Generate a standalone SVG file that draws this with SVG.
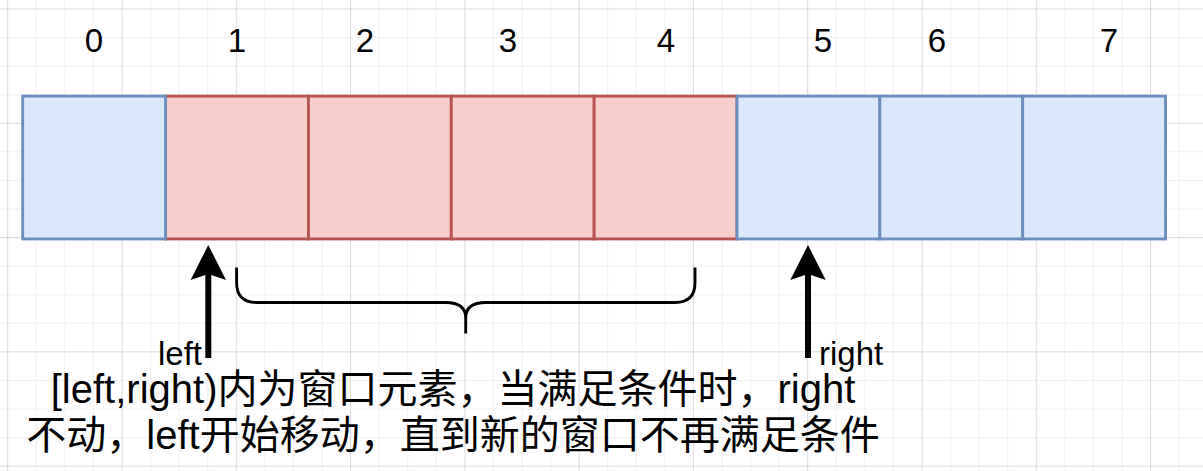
<svg xmlns="http://www.w3.org/2000/svg" width="1203" height="471" viewBox="0 0 1203 471">
<style>
.minor{stroke:#f0f0f0;stroke-width:1;fill:none}
.major{stroke:#dadada;stroke-width:1;fill:none}
.red{fill:#f8cecc;stroke:#b85450;stroke-width:2.86}
.blue{fill:#dae8fc;stroke:#6c8ebf;stroke-width:2.86}
.idx{font-family:"Liberation Sans",Arial,sans-serif;font-size:33px;fill:#000;text-anchor:middle}
.lbl{font-family:"Liberation Sans",Arial,sans-serif;font-size:33px;fill:#000}
.main{font-family:"Liberation Sans",Arial,"Noto Sans CJK SC",sans-serif;font-size:40px;fill:#000;text-anchor:middle}
.conn{stroke:#000;fill:none}
</style>
<rect width="1203" height="471" fill="#fff"/>
<g id="grid">
<path class="minor" d="M36.28 0V471M64.85 0V471M93.42 0V471M150.57 0V471M179.14 0V471M207.71 0V471M264.85 0V471M293.42 0V471M322 0V471M379.14 0V471M407.71 0V471M436.28 0V471M493.42 0V471M522 0V471M550.57 0V471M607.71 0V471M636.28 0V471M664.85 0V471M722 0V471M750.57 0V471M779.14 0V471M836.28 0V471M864.85 0V471M893.42 0V471M950.57 0V471M979.14 0V471M1007.71 0V471M1064.85 0V471M1093.42 0V471M1122 0V471M1179.14 0V471M0 37.57H1203M0 66.14H1203M0 94.71H1203M0 151.86H1203M0 180.43H1203M0 209H1203M0 266.14H1203M0 294.71H1203M0 323.28H1203M0 380.43H1203M0 409H1203M0 437.57H1203"/>
<path class="major" d="M7.71 0V471M122 0V471M236.28 0V471M350.57 0V471M464.85 0V471M579.14 0V471M693.42 0V471M807.71 0V471M922 0V471M1036.28 0V471M1150.57 0V471M0 9H1203M0 123.28H1203M0 237.57H1203M0 351.86H1203M0 466.14H1203"/>
</g>
<g id="cell1"><rect class="red" x="165.57" y="96.1" width="142.86" height="142.86"/></g>
<g id="cell2"><rect class="red" x="308.43" y="96.1" width="142.86" height="142.86"/></g>
<g id="cell3"><rect class="red" x="451.29" y="96.1" width="142.86" height="142.86"/></g>
<g id="cell4"><rect class="red" x="594.14" y="96.1" width="142.86" height="142.86"/></g>
<g id="cell0"><rect class="blue" x="22.71" y="96.1" width="142.86" height="142.86"/></g>
<g id="cell5"><rect class="blue" x="737" y="96.1" width="142.86" height="142.86"/></g>
<g id="cell6"><rect class="blue" x="879.86" y="96.1" width="142.86" height="142.86"/></g>
<g id="cell7"><rect class="blue" x="1022.71" y="96.1" width="142.86" height="142.86"/></g>
<g id="indices">
<text class="idx" x="94" y="52">0</text>
<text class="idx" x="237" y="52">1</text>
<text class="idx" x="365" y="52">2</text>
<text class="idx" x="508" y="52">3</text>
<text class="idx" x="666" y="52">4</text>
<text class="idx" x="823" y="52">5</text>
<text class="idx" x="937" y="52">6</text>
<text class="idx" x="1109" y="52">7</text>
</g>
<g id="connectors">
<path class="conn" stroke-width="6" d="M208.3 358V274"/>
<path d="M208.3 245L226 280L208.3 274L190.6 280Z" fill="#000"/>
<path class="conn" stroke-width="6" d="M808 358V274"/>
<path d="M808 245L825.7 280L808 274L790.3 280Z" fill="#000"/>
</g>
<g id="brace">
<path class="conn" stroke-width="2.86" d="M236.6 267.5V282.5Q236.6 302.5 256.6 302.5H445.7Q465.7 302.5 465.7 318Q465.7 302.5 485.7 302.5H675Q695 302.5 695 282.5V267.5M465.7 318V333.5"/>
</g>
<g id="labels">
<text class="lbl" x="158" y="365">left</text>
<text class="lbl" x="819" y="365">right</text>
</g>
<g id="caption">
<text class="main" x="453" y="403">[left,right)内为窗口元素，当满足条件时，right</text>
<text class="main" x="453" y="449">不动，left开始移动，直到新的窗口不再满足条件</text>
</g>
</svg>
